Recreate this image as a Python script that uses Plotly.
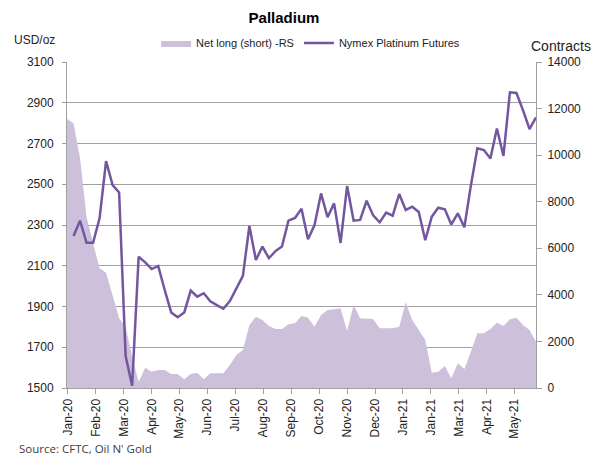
import pandas as pd
import plotly.graph_objects as go

# weekly CFTC report dates (first one only carries the positions)
dates = pd.date_range("2019-12-31", periods=73, freq="7D")

# Net long (short) contracts - right axis
net_long = [11551, 11366, 9877, 7356, 6213, 5140, 4951, 3920, 2992, 2632,
            1344, 271, 872, 700, 773, 773, 601, 601, 373, 601,
            658, 373, 630, 630, 630, 988, 1417, 1632, 2705, 3062,
            2920, 2662, 2533, 2533, 2733, 2776, 3092, 3020, 2634, 3135,
            3349, 3378, 3421, 2448, 3564, 2991, 2991, 2963, 2562, 2548,
            2562, 2634, 3679, 2920, 2491, 2061, 658, 701, 945, 415,
            1059, 816, 1560, 2347, 2347, 2533, 2806, 2662, 2948, 3020,
            2705, 2491, 1990]

# futures price USD/oz - left axis (starts one week later)
price = [2246, 2321, 2213, 2213, 2333, 2614, 2496, 2460, 1657, 1511,
         2144, 2117, 2084, 2099, 1981, 1871, 1847, 1871, 1978, 1948,
         1965, 1926, 1907, 1889, 1927, 1989, 2050, 2295, 2128, 2194,
         2137, 2172, 2194, 2321, 2335, 2380, 2230, 2300, 2455, 2338,
         2406, 2212, 2491, 2321, 2325, 2419, 2347, 2313, 2361, 2346,
         2452, 2374, 2390, 2364, 2225, 2341, 2385, 2377, 2303, 2357,
         2289, 2493, 2676, 2668, 2626, 2774, 2639, 2951, 2948, 2864,
         2771, 2828]

tick_labels = ["Jan-20", "Feb-20", "Mar-20", "Apr-20", "May-20", "Jun-20",
               "Jul-20", "Aug-20", "Sep-20", "Oct-20", "Nov-20", "Dec-20",
               "Jan-21", "Jan-21", "Mar-21", "Apr-21", "May-21"]
tick_dates = pd.date_range("2020-01-01", periods=len(tick_labels), freq="30D")

axis_grey = "#a0a0a0"
tick_font = dict(family="Liberation Sans, Arial", size=12, color="#222222")

fig = go.Figure()
fig.add_trace(go.Scatter(x=dates, y=net_long, name="Net long (short) -RS",
                         mode="lines", line=dict(width=0), fill="tozeroy",
                         fillcolor="#ccc0da", yaxis="y"))
fig.add_trace(go.Scatter(x=dates[1:], y=price, name="Nymex Platinum Futures",
                         mode="lines", line=dict(color="#74559f", width=2.5),
                         yaxis="y2"))

# page body adds 8px, so margins are offset by that
fig.update_layout(
    template="none",
    width=600, height=464,
    margin=dict(l=59, r=72, t=54, b=84),
    paper_bgcolor="white", plot_bgcolor="white",
    showlegend=True,
    title=dict(text="<b>Palladium</b>", x=0.46, xanchor="center",
               y=0.978, yanchor="middle",
               font=dict(family="Liberation Sans, Arial", size=15, color="black")),
    legend=dict(orientation="h", x=0.19, xanchor="left", y=1.058, yanchor="middle",
                font=dict(family="Liberation Sans, Arial", size=11, color="#222222"),
                bgcolor="rgba(0,0,0,0)", traceorder="normal"),
    xaxis=dict(type="date", range=[dates[0], dates[-1]],
               tickvals=tick_dates, ticktext=tick_labels, tickangle=-90,
               ticks="outside", ticklen=5, tickcolor=axis_grey,
               showline=True, linecolor=axis_grey, showgrid=False,
               tickfont=tick_font, automargin=False),
    yaxis=dict(range=[0, 14000], dtick=2000, tick0=0, side="right", showgrid=False,
               showline=True, linecolor=axis_grey, ticks="outside", ticklen=5,
               tickcolor=axis_grey, tickfont=tick_font, zeroline=False,
               tickformat="d", ticklabelstandoff=3, automargin=False),
    yaxis2=dict(range=[1500, 3100], dtick=200, tick0=1500, side="left", overlaying="y",
                showgrid=True, gridcolor=axis_grey, gridwidth=1,
                showline=True, linecolor=axis_grey, ticks="outside", ticklen=4,
                tickcolor=axis_grey, tickfont=tick_font, zeroline=False,
                tickformat="d", ticklabelstandoff=6, automargin=False),
    annotations=[
        dict(text="USD/oz", xref="paper", yref="paper", x=-0.117, y=1.0675,
             xanchor="left", yanchor="middle", showarrow=False,
             font=dict(family="Liberation Sans, Arial", size=12, color="#222222")),
        dict(text="Contracts", xref="paper", yref="paper", x=0.985, y=1.0506,
             xanchor="left", yanchor="middle", showarrow=False,
             font=dict(family="Liberation Sans, Arial", size=14, color="#222222")),
        dict(text="Source: CFTC, Oil N' Gold", xref="paper", yref="paper",
             x=-0.106, y=-0.187, xanchor="left", yanchor="middle", showarrow=False,
             font=dict(family="Open Sans", size=11.5, color="#404040")),
    ],
)

fig.write_html("out.html")
